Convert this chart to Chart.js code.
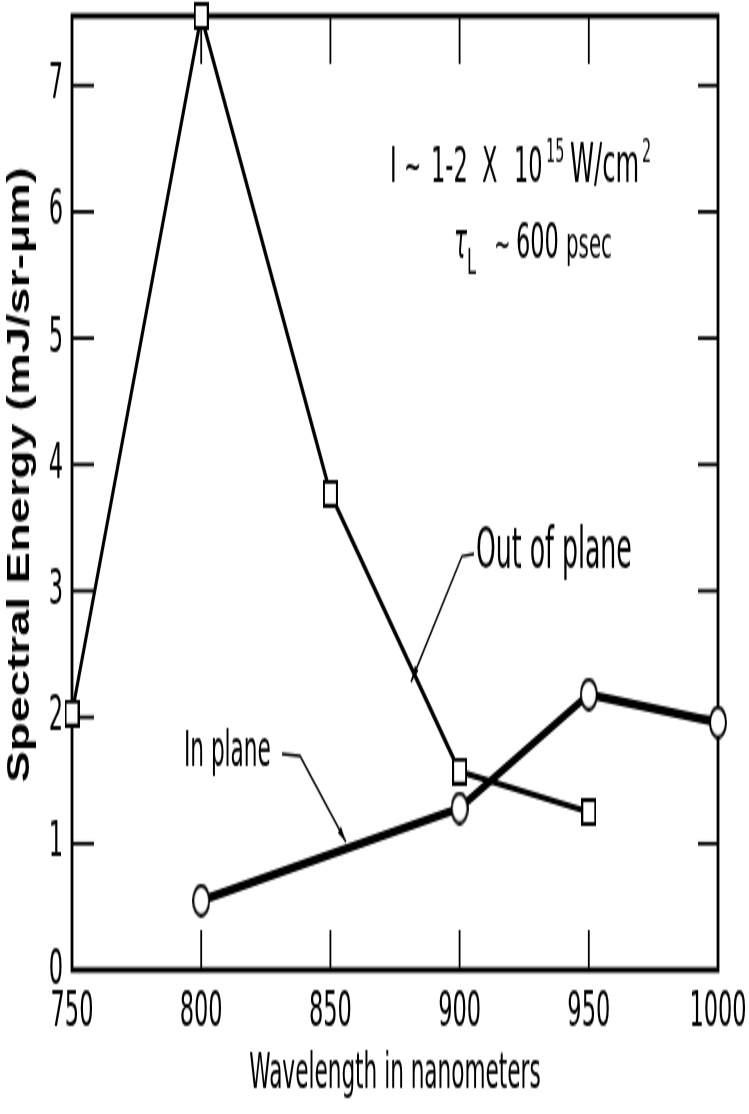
<!DOCTYPE html>
<html><head><meta charset="utf-8">
<script src="https://cdn.jsdelivr.net/npm/chart.js@4"></script>
<style>
html,body{margin:0;padding:0;background:#fff;overflow:hidden}
#wrap{position:absolute;left:0;top:0;width:749px;height:557px;transform:scaleY(2);transform-origin:0 0}
</style></head><body>
<div id="wrap"><canvas id="c"></canvas></div>
<script>
// ---- data ----
const xTickValues = [750, 800, 850, 900, 950, 1000];
const yTickValues = [0, 1, 2, 3, 4, 5, 6, 7];
const outOfPlaneX = [750, 800, 850, 900, 950];
const outOfPlaneY = [2.03, 7.55, 3.77, 1.57, 1.25];
const inPlaneX = [800, 900, 950, 1000];
const inPlaneY = [0.55, 1.28, 2.18, 1.96];
const seriesNames = ['Out of plane', 'In plane'];
const xTitle = 'Wavelength in nanometers';
const yTitle = 'Spectral Energy (mJ/sr-\u03BCm)';

// ---- styles ----
const COND = "'DejaVu Sans Condensed','Liberation Sans Narrow',sans-serif";
const WIDE = "'Liberation Sans',Arial,sans-serif";

function rectMarker(w, h, lw) {
  const c = document.createElement('canvas'); c.width = w; c.height = h;
  const g = c.getContext('2d');
  g.fillStyle = '#fff'; g.fillRect(0, 0, w, h);
  g.strokeStyle = '#000'; g.lineWidth = lw; g.strokeRect(lw/2, lw/2, w - lw, h - lw);
  return c;
}
function ellipseMarker(w, h, lw) {
  const c = document.createElement('canvas'); c.width = w; c.height = h;
  const g = c.getContext('2d');
  g.beginPath(); g.ellipse(w/2, h/2, w/2 - lw/2, h/2 - lw/2, 0, 0, Math.PI*2);
  g.fillStyle = '#fff'; g.fill(); g.strokeStyle = '#000'; g.lineWidth = lw; g.stroke();
  return c;
}
const sq = rectMarker(15, 14, 2);
const el = ellipseMarker(18, 17, 2);

// map reference-picture coordinates into the chart through its scales
function R(chart, rx, ry) {
  const {x, y} = chart.scales;
  return [x.getPixelForValue(750 + (rx - 72) * 250 / 646), y.getPixelForValue((970 - ry) / 126.4)];
}

const frame = {
  id: 'frame',
  beforeDatasetsDraw(chart) {
    const {ctx, chartArea: a, scales: {x, y}} = chart;
    ctx.save(); ctx.strokeStyle = '#000';
    ctx.lineWidth = 2.8;
    ctx.strokeRect(a.left, a.top, a.right - a.left, a.bottom - a.top);
    ctx.lineWidth = 1.8;
    const ln = (x1, y1, x2, y2) => { ctx.beginPath(); ctx.moveTo(x1, y1); ctx.lineTo(x2, y2); ctx.stroke(); };
    xTickValues.forEach(v => {
      if (v === x.min || v === x.max) return;
      const px = x.getPixelForValue(v);
      ln(px, a.bottom, px, a.bottom - 20);
      ln(px, a.top, px, a.top + 24);
    });
    yTickValues.forEach(v => {
      if (v === 0) return;
      const py = y.getPixelForValue(v);
      ln(a.left, py, a.left + 22, py);
      ln(a.right, py, a.right - 20, py);
    });
    ctx.restore();
  }
};

function arrowLine(ctx, pts, lw) {
  ctx.save(); ctx.lineWidth = lw; ctx.strokeStyle = '#000'; ctx.fillStyle = '#000';
  ctx.beginPath(); ctx.moveTo(pts[0][0], pts[0][1]);
  for (let i = 1; i < pts.length; i++) ctx.lineTo(pts[i][0], pts[i][1]);
  ctx.stroke();
  const [x2, y2] = pts[pts.length - 1], [x1, y1] = pts[pts.length - 2];
  const ang = Math.atan2(y2 - y1, x2 - x1), L = 9, W = 2.2;
  ctx.beginPath(); ctx.moveTo(x2, y2);
  ctx.lineTo(x2 - L*Math.cos(ang) + W*Math.sin(ang), y2 - L*Math.sin(ang) - W*Math.cos(ang));
  ctx.lineTo(x2 - L*Math.cos(ang) - W*Math.sin(ang), y2 - L*Math.sin(ang) + W*Math.cos(ang));
  ctx.closePath(); ctx.fill();
  ctx.restore();
}

const notes = {
  id: 'notes',
  afterDatasetsDraw(chart) {
    const ctx = chart.ctx;
    const a = chart.chartArea;
    ctx.save(); ctx.fillStyle = '#000'; ctx.textBaseline = 'alphabetic'; ctx.textAlign = 'left';
    const txt = (s, rx, ry, size, style) => {
      const [px, py] = R(chart, rx, ry);
      ctx.font = (style || '') + ' ' + size + 'px ' + COND;
      ctx.fillText(s, px, py);
    };
    // intensity line
    txt('I', 390, 182, 25);
    txt('~', 404, 182, 23);
    txt('1-2', 431, 182, 25);
    txt('X', 482, 182, 25);
    txt('10', 514, 182, 25);
    txt('15', 546, 162, 16);
    txt('W/cm', 570, 182, 27);
    txt('2', 642, 162, 16);
    // pulse length line
    txt('\u03C4', 454, 257, 24, 'italic');
    txt('L', 467, 273, 18);
    txt('~', 494, 257, 22);
    txt('600', 516, 257, 25);
    txt('psec', 566, 257, 22);
    // series labels
    txt(seriesNames[0], 476, 567, 28);
    txt(seriesNames[1], 184, 766, 24);
    arrowLine(ctx, [R(chart, 474, 554), R(chart, 462, 556), R(chart, 411, 682)], 1.4);
    arrowLine(ctx, [R(chart, 282, 754), R(chart, 300, 756), R(chart, 346, 842)], 1.4);
    // y axis title (rotated)
    ctx.save();
    ctx.translate(20, (a.top + a.bottom) / 2 - 9);
    ctx.rotate(-Math.PI / 2);
    ctx.scale(0.76, 1);
    ctx.font = 'bold 31px ' + WIDE;
    ctx.textAlign = 'center'; ctx.textBaseline = 'middle';
    ctx.fillText(yTitle, 0, 0);
    ctx.restore();
    ctx.restore();
  }
};

new Chart(document.getElementById('c'), {
  type: 'line',
  data: {
    datasets: [
      {
        label: seriesNames[0],
        data: outOfPlaneX.map((v, i) => ({x: v, y: outOfPlaneY[i]})),
        borderColor: '#000', borderWidth: 3, pointStyle: sq, pointRadius: 8,
        clip: false, tension: 0
      },
      {
        label: seriesNames[1],
        data: inPlaneX.map((v, i) => ({x: v, y: inPlaneY[i]})),
        borderColor: '#000', borderWidth: 4.5, pointStyle: el, pointRadius: 9,
        clip: false, tension: 0
      }
    ]
  },
  options: {
    responsive: true, maintainAspectRatio: false, animation: false,
    events: [],
    layout: {autoPadding: false, padding: {left: 0, right: 31, top: 8, bottom: 0}},
    plugins: {legend: {display: false}, tooltip: {enabled: false}},
    scales: {
      x: {
        type: 'linear', min: 750, max: 1000,
        afterBuildTicks: s => { s.ticks = xTickValues.map(v => ({value: v})); },
        afterFit: s => { s.height = 72; s.paddingLeft = 0; s.paddingRight = 0; },
        grid: {display: false, drawTicks: false}, border: {display: false},
        ticks: {color: '#000', padding: 6, maxRotation: 0, autoSkip: false,
                callback: v => String(v), font: {family: COND, size: 25}},
        title: {display: true, text: xTitle, color: '#000',
                font: {family: COND, size: 24}, padding: {top: 0, bottom: 5}}
      },
      y: {
        type: 'linear', min: 0, max: 7.55,
        afterBuildTicks: s => { s.ticks = yTickValues.map(v => ({value: v})); },
        afterFit: s => { s.width = 72; s.paddingTop = 0; s.paddingBottom = 0; },
        grid: {display: false, drawTicks: false}, border: {display: false},
        ticks: {color: '#000', padding: 9, autoSkip: false,
                callback: v => String(v), font: {family: COND, size: 25, lineHeight: 0.6}},
        title: {display: false, text: yTitle}
      }
    }
  },
  plugins: [frame, notes]
});
</script>
</body></html>
